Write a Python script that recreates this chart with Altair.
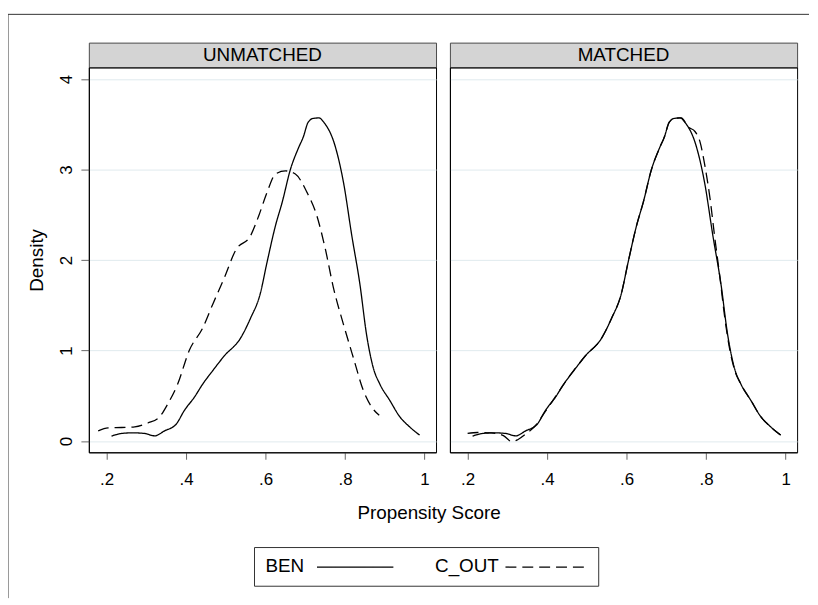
import altair as alt
import pandas as pd

FONT = "Liberation Sans"

panel_titles = ["UNMATCHED", "MATCHED"]
series_names = ["BEN", "C_OUT"]
x_title = "Propensity Score"
y_title = "Density"
x_ticks = [0.2, 0.4, 0.6, 0.8, 1.0]
y_ticks = [0, 1, 2, 3, 4]

# BEN (treated) density - same in both panels
ben_ps = [0.2125, 0.2375, 0.267, 0.296, 0.321, 0.346, 0.375, 0.396, 0.421, 0.442,
          0.467, 0.496, 0.5375, 0.5625, 0.586, 0.604, 0.625, 0.642, 0.6625, 0.683,
          0.695, 0.707, 0.720, 0.735, 0.745, 0.775, 0.796, 0.817, 0.8375, 0.854,
          0.871, 0.8875, 0.9125, 0.9375, 0.9625, 0.9875]
ben_dens = [0.055, 0.084, 0.091, 0.084, 0.058, 0.113, 0.186, 0.34, 0.485, 0.63,
            0.777, 0.94, 1.14, 1.36, 1.617, 1.98, 2.38, 2.64, 3.00, 3.24,
            3.36, 3.52, 3.565, 3.57, 3.53, 3.26, 2.86, 2.27, 1.73, 1.18,
            0.81, 0.63, 0.45, 0.27, 0.157, 0.066]

# C_OUT density, unmatched sample
cout_unm_ps = [0.179, 0.204, 0.2375, 0.271, 0.304, 0.333, 0.354, 0.379, 0.408, 0.442,
               0.467, 0.496, 0.525, 0.5625, 0.583, 0.604, 0.625, 0.65, 0.675, 0.704,
               0.729, 0.75, 0.771, 0.796, 0.821, 0.846, 0.867, 0.886]
cout_unm_dens = [0.113, 0.146, 0.15, 0.157, 0.20, 0.266, 0.41, 0.63, 1.00, 1.25,
                 1.51, 1.80, 2.11, 2.27, 2.49, 2.75, 2.95, 2.985, 2.95, 2.75,
                 2.49, 2.13, 1.69, 1.29, 0.92, 0.56, 0.376, 0.285]

# C_OUT density, matched sample
cout_m_ps = [0.2, 0.225, 0.26, 0.29, 0.312, 0.327, 0.348, 0.369, 0.396, 0.421,
             0.442, 0.467, 0.496, 0.5375, 0.5625, 0.586, 0.604, 0.625, 0.642, 0.6625,
             0.683, 0.695, 0.707, 0.720, 0.7375, 0.755, 0.772, 0.785, 0.797, 0.81, 0.822,
             0.835, 0.847, 0.86, 0.872, 0.8875, 0.9125, 0.9375, 0.9625, 0.9875]
cout_m_dens = [0.084, 0.095, 0.09, 0.06, -0.007, 0.018, 0.084, 0.164, 0.33, 0.49,
               0.63, 0.78, 0.94, 1.14, 1.36, 1.617, 1.98, 2.38, 2.64, 3.00,
               3.24, 3.36, 3.52, 3.565, 3.57, 3.47, 3.42, 3.30, 3.04, 2.675, 2.24,
               1.80, 1.36, 1.00, 0.78, 0.63, 0.45, 0.27, 0.157, 0.066]


def make_df(ps_a, d_a, ps_b, d_b):
    a = pd.DataFrame({"ps": ps_a, "dens": d_a, "grp": series_names[0]})
    b = pd.DataFrame({"ps": ps_b, "dens": d_b, "grp": series_names[1]})
    return pd.concat([a, b], ignore_index=True)


df_unm = make_df(ben_ps, ben_dens, cout_unm_ps, cout_unm_dens)
df_m = make_df(ben_ps, ben_dens, cout_m_ps, cout_m_dens)

PW, PH, HH = 350, 388, 25
GAP = 14
GRID = "#e0eaee"
DASH = [11, 6]

x_scale = alt.Scale(domain=[0.1555, 1.0289], nice=False, zero=False)
y_scale = alt.Scale(domain=[-0.124, 4.128], nice=False, zero=False)

x_axis = alt.Axis(values=x_ticks, title=None, grid=False,
                  labelExpr="datum.value >= 1 ? '1' : '.' + round(datum.value * 10)",
                  tickSize=7, tickColor="#666666", domainColor="black", domainWidth=1,
                  labelFont=FONT, labelFontSize=17, labelColor="black", labelPadding=12)


def y_axis(show):
    if show:
        return alt.Axis(values=y_ticks, title=y_title, grid=True, gridColor=GRID,
                        labelAngle=270, tickSize=8, tickColor="#666666",
                        domainColor="black", labelFont=FONT, labelFontSize=17,
                        labelColor="black", labelPadding=5, titleFont=FONT,
                        titleFontSize=19, titleFontWeight="normal", titleColor="black",
                        titlePadding=12)
    return alt.Axis(values=y_ticks, title=None, grid=True, gridColor=GRID,
                    labels=False, ticks=False, domainColor="black")


def panel(df, show_y):
    return alt.Chart(df).mark_line(color="black", strokeWidth=1.3, clip=True,
                                   interpolate="monotone").encode(
        x=alt.X("ps:Q", scale=x_scale, axis=x_axis),
        y=alt.Y("dens:Q", scale=y_scale, axis=y_axis(show_y)),
        strokeDash=alt.StrokeDash("grp:N", legend=None,
                                  scale=alt.Scale(domain=series_names, range=[[1, 0], DASH])),
        detail="grp:N",
    ).properties(width=PW, height=PH)


def header(title):
    return alt.Chart(pd.DataFrame({"t": [title]})).mark_text(
        font=FONT, fontSize=19, baseline="alphabetic", align="center", color="black"
    ).encode(
        x=alt.value(PW / 2), y=alt.value(19), text="t:N"
    ).properties(width=PW, height=HH,
                 view=alt.ViewBackground(fill="#d4d4d4", stroke="#4a4a4a", strokeWidth=1))


one = pd.DataFrame({"k": [0]})

xt = alt.Chart(pd.DataFrame({"t": [x_title]})).mark_text(
    font=FONT, fontSize=19, baseline="alphabetic", align="center", color="black"
).encode(x=alt.value(343), y=alt.value(67), text="t:N")

box = alt.Chart(one).mark_rect(fill="white", stroke="#333333", strokeWidth=1).encode(
    x=alt.value(167), x2=alt.value(514), y=alt.value(96), y2=alt.value(135))

leg_layers = []
label_x = [178, 349]
line_x = [(230, 307), (420, 503)]
for i, name in enumerate(series_names):
    leg_layers.append(alt.Chart(pd.DataFrame({"t": [name]})).mark_text(
        font=FONT, fontSize=19, baseline="alphabetic", align="left", color="black"
    ).encode(x=alt.value(label_x[i]), y=alt.value(121), text="t:N"))
    leg_layers.append(alt.Chart(one).mark_rule(
        color="black", strokeWidth=1.3, strokeDash=([1, 0] if i == 0 else DASH)
    ).encode(x=alt.value(line_x[i][0]), x2=alt.value(line_x[i][1]), y=alt.value(115.7)))

border_top = alt.Chart(one).mark_rule(color="#333333", strokeWidth=1).encode(
    x=alt.value(-81.5), x2=alt.value(726), y=alt.value(-441.5))
border_left = alt.Chart(one).mark_rule(color="#333333", strokeWidth=1).encode(
    x=alt.value(-81.5), y=alt.value(-441.5), y2=alt.value(147))

bottom = alt.layer(border_top, border_left, xt, box, *leg_layers).properties(
    width=PW, height=147, view=alt.ViewBackground(stroke="transparent"))

chart = alt.concat(
    header(panel_titles[0]), header(panel_titles[1]),
    panel(df_unm, True), panel(df_m, False),
    bottom,
    columns=2, spacing=alt.RowColnumber(row=0, column=GAP), bounds="flush",
).properties(
    padding={"left": -1.5, "top": 2.5, "right": 0, "bottom": 0}
).configure(font=FONT).configure_view(stroke="black", strokeWidth=1)

chart.save("out.html", embed_options={"renderer": "svg", "actions": False})
